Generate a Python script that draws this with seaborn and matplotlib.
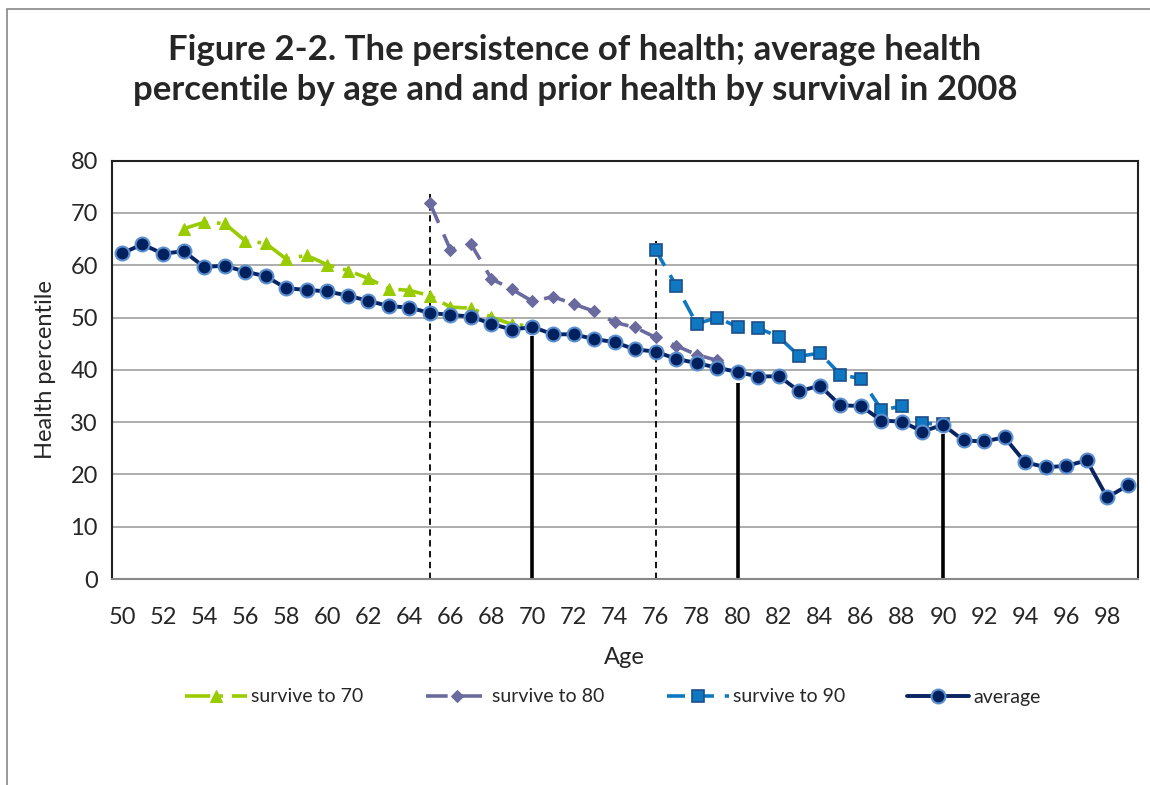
import numpy as np
import pandas as pd
import seaborn as sns
import matplotlib.pyplot as plt
from matplotlib.patches import Rectangle

# ages and average health percentile
ages = list(range(50, 100))
average = [62.3, 64.0, 62.2, 62.7, 59.7, 59.9, 58.8, 57.9, 55.6, 55.3,
           55.0, 54.2, 53.2, 52.2, 51.9, 50.9, 50.5, 50.2, 48.8, 47.7,
           48.2, 46.8, 46.8, 45.9, 45.3, 43.9, 43.5, 42.1, 41.3, 40.4,
           39.6, 38.7, 38.8, 35.9, 37.0, 33.2, 33.1, 30.3, 30.1, 28.2,
           29.5, 26.5, 26.3, 27.1, 22.3, 21.4, 21.6, 22.7, 15.6, 17.9]

ages_70 = list(range(53, 71))
survive_70 = [67.0, 68.2, 68.0, 64.7, 64.2, 61.2, 61.9, 60.1, 59.0, 57.5,
              55.5, 55.2, 54.2, 52.0, 51.8, 50.1, 48.7, 48.4]

ages_80 = list(range(65, 81))
survive_80 = [71.9, 63.0, 64.1, 57.4, 55.4, 53.1, 54.0, 52.6, 51.2, 49.1,
              48.1, 46.2, 44.6, 42.9, 41.8, 39.8]

ages_90 = list(range(76, 91))
survive_90 = [62.9, 56.1, 48.8, 50.0, 48.2, 48.0, 46.3, 42.6, 43.2, 39.1,
              38.3, 32.4, 33.0, 29.8, 29.6]

# reference lines
dash_ages = [65, 76]
dash_tops = [73.7, 64.7]
solid_ages = [70, 80, 90]
solid_tops = [46.4, 37.4, 27.7]

styles = [(0, (7, 2.5, 1, 2.5)), (0, (6, 3.5)), (0, (5, 3)), '-']

sns.set_style("white")
plt.rcParams['font.family'] = ['Lato', 'DejaVu Sans']

fig = plt.figure(figsize=(11.5, 7.85), dpi=100)
fig.patches.append(Rectangle((7 / 1150, -0.1), 1.2, 1 - 9 / 785 + 0.1,
                             transform=fig.transFigure, fill=False,
                             edgecolor='#888888', lw=1.2))
ax = fig.add_axes([111.7 / 1150, 206 / 785, 1026.3 / 1150, 418.3 / 785])

ax.vlines(dash_ages, 0, dash_tops, colors='black', linestyles=(0, (3.5, 2.5)), lw=1.3, zorder=2)
ax.vlines(solid_ages, 0, solid_tops, colors='black', lw=2.6, zorder=2)

sns.lineplot(x=ages_70, y=survive_70, ax=ax, color='#99CC00', lw=2.6,
             marker='^', markersize=8.5,
             markeredgecolor='#99CC00', label='survive to 70', zorder=3)
ax.lines[-1].set_linestyle(styles[0])
sns.lineplot(x=ages_80, y=survive_80, ax=ax, color='#6A6A9F', lw=2.6,
             marker='D', markersize=6.5,
             markeredgecolor='#6A6A9F', label='survive to 80', zorder=3)
ax.lines[-1].set_linestyle(styles[1])
sns.lineplot(x=ages_90, y=survive_90, ax=ax, color='#0E78C2', lw=2.6,
             marker='s', markersize=8,
             markeredgecolor='#1D4F8A', markeredgewidth=1.2,
             label='survive to 90', zorder=3)
ax.lines[-1].set_linestyle(styles[2])
sns.lineplot(x=ages, y=average, ax=ax, color='#0A2463', lw=2.8,
             marker='o', markersize=10, markerfacecolor='#00215E',
             markeredgecolor='#5B8FCF', markeredgewidth=1.5,
             label='average', zorder=4)

ax.set_xlim(49.5, 99.5)
ax.set_ylim(0, 80)
ax.set_yticks(range(0, 81, 10))
ax.set_xticks(range(50, 99, 2))
ax.set_xticks(np.arange(49.5, 100, 1), minor=True)
ax.tick_params(axis='x', which='major', length=0, labelsize=17, pad=20)
ax.tick_params(axis='x', which='minor', length=6, color='#999999', width=1)
ax.tick_params(axis='y', which='major', length=6, color='#999999', labelsize=17, pad=4)
ax.yaxis.grid(True, color='#A0A0A0', lw=1.2)
ax.set_axisbelow(True)
for s in ax.spines.values():
    s.set_color('#222222')
    s.set_linewidth(1.5)
ax.spines['bottom'].set_color('#888888')

ax.set_xlabel('Age', fontsize=17, labelpad=14)
ax.set_ylabel('Health percentile', fontsize=17, labelpad=10)

fig.suptitle('Figure 2-2. The persistence of health; average health\n'
             'percentile by age and and prior health by survival in 2008',
             fontsize=25, fontweight='bold', y=1 - 70 / 785, va='center',
             linespacing=1.3)

ax.legend_.remove()
handles, labels = ax.get_legend_handles_labels()
for h, ls in zip(handles, styles):
    h.set_linestyle(ls)
fig.legend(handles, labels, loc='center', bbox_to_anchor=(0.533, 1 - 697 / 785),
           ncol=4, frameon=False, fontsize=14, handlelength=3.2,
           columnspacing=3.2, handletextpad=0.2)

fig.savefig('out.png', dpi=100)
